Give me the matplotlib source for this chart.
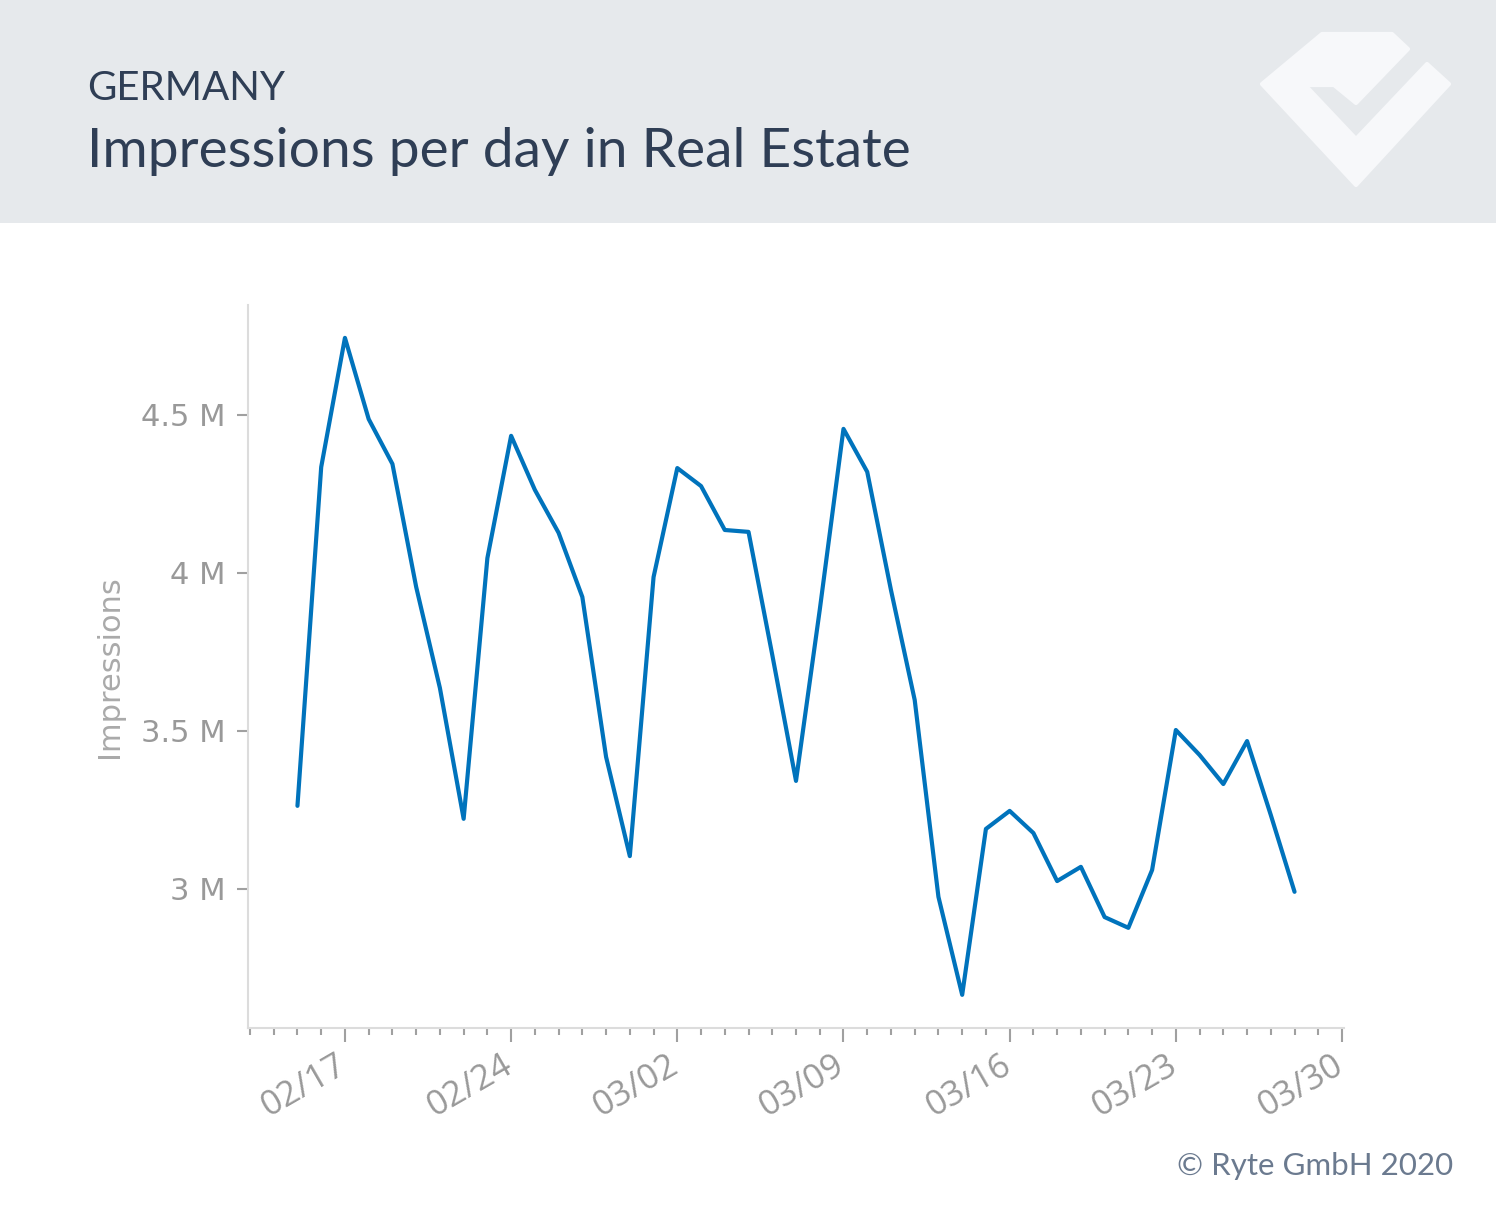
import numpy as np
import pandas as pd
import matplotlib
matplotlib.use("Agg")
import matplotlib.pyplot as plt
import matplotlib.dates as mdates
import matplotlib.transforms as mtransforms
from matplotlib.patches import Polygon, Rectangle
from matplotlib.ticker import FuncFormatter

# daily impressions (millions), 2020-02-15 .. 2020-03-28
dates = pd.date_range("2020-02-15", "2020-03-28", freq="D")
impressions = [
    3.263, 4.335, 4.744, 4.487, 4.345, 3.956, 3.636, 3.222, 4.047, 4.434,
    4.263, 4.127, 3.924, 3.418, 3.104, 3.987, 4.332, 4.275, 4.136, 4.130,
    3.741, 3.342, 3.883, 4.456, 4.320, 3.946, 3.598, 2.975, 2.665, 3.190,
    3.247, 3.177, 3.025, 3.070, 2.911, 2.877, 3.060, 3.503, 3.424, 3.332,
    3.468, 3.234, 2.991,
]
yticks = [3.0, 3.5, 4.0, 4.5]

W, H = 1496, 1205
fig = plt.figure(figsize=(W / 100, H / 100), dpi=100)
fig.patch.set_facecolor("white")

def fx(x):
    return x / W

def fy(y):
    return 1 - y / H

# header band
fig.patches.append(Rectangle((0, fy(223)), 1, 223 / H, transform=fig.transFigure,
                             facecolor="#e6e9ec", edgecolor="none", zorder=0))

# logo
logo = [(1262, 84), (1322, 34), (1392, 34), (1408, 49), (1356, 103), (1334, 85),
        (1305, 85), (1356, 139), (1427, 64), (1449, 84), (1356, 185)]
fig.patches.append(Polygon([(fx(x), fy(y)) for x, y in logo], closed=True,
                           transform=fig.transFigure, facecolor="#f7f8fa",
                           edgecolor="#f7f8fa", linewidth=3, joinstyle="round", zorder=1))

fig.text(fx(87), fy(89), "GERMANY", fontsize=29, color="#2f3e55",
         family="Lato", va="center", ha="left")
fig.text(fx(87), fy(152), "Impressions per day in Real Estate", fontsize=39.7,
         color="#2f3e55", family="Lato", va="center", ha="left")
fig.text(fx(1453), fy(1166), "\u00a9 Ryte GmbH 2020", fontsize=22.5, color="#6b7a8f",
         family="Lato", va="center", ha="right")

ax = fig.add_axes([fx(248), fy(1028), (1344 - 248) / W, (1028 - 305) / H])
ax.plot(dates, impressions, color="#0073bc", linewidth=3, solid_joinstyle="round",
        solid_capstyle="round")

ax.set_xlim(pd.Timestamp("2020-02-12 22:00"), pd.Timestamp("2020-03-30 02:00"))
ax.set_ylim(2.56, 4.848)

ax.xaxis.set_major_locator(mdates.WeekdayLocator(byweekday=mdates.MO))
ax.xaxis.set_minor_locator(mdates.DayLocator())
ax.xaxis.set_major_formatter(mdates.DateFormatter("%m/%d"))
ax.set_yticks(yticks)
ax.yaxis.set_major_formatter(FuncFormatter(lambda v, p: f"{v:g} M"))

for s in ["top", "right"]:
    ax.spines[s].set_visible(False)
for s in ["left", "bottom"]:
    ax.spines[s].set_color("#dcdcdc")
    ax.spines[s].set_linewidth(1.5)

ax.tick_params(axis="x", which="major", length=10, width=1.5, color="#a0a0a0",
               labelsize=25, labelcolor="#999999", pad=5)
ax.tick_params(axis="x", which="minor", length=5, width=1.5, color="#a0a0a0")
ax.tick_params(axis="y", which="major", length=8, width=1.5, color="#a0a0a0",
               labelsize=22, labelcolor="#999999", pad=8)
shift = mtransforms.ScaledTranslation(-10 / 100, 0, fig.dpi_scale_trans)
for lab in ax.get_xticklabels():
    lab.set_rotation(30)
    lab.set_ha("right")
    lab.set_rotation_mode("anchor")
    lab.set_family("Open Sans")
    lab.set_transform(lab.get_transform() + shift)

ax.set_ylabel("Impressions", fontsize=22, color="#aaaaaa", labelpad=12)

fig.savefig("out.png", dpi=100, facecolor="white")
